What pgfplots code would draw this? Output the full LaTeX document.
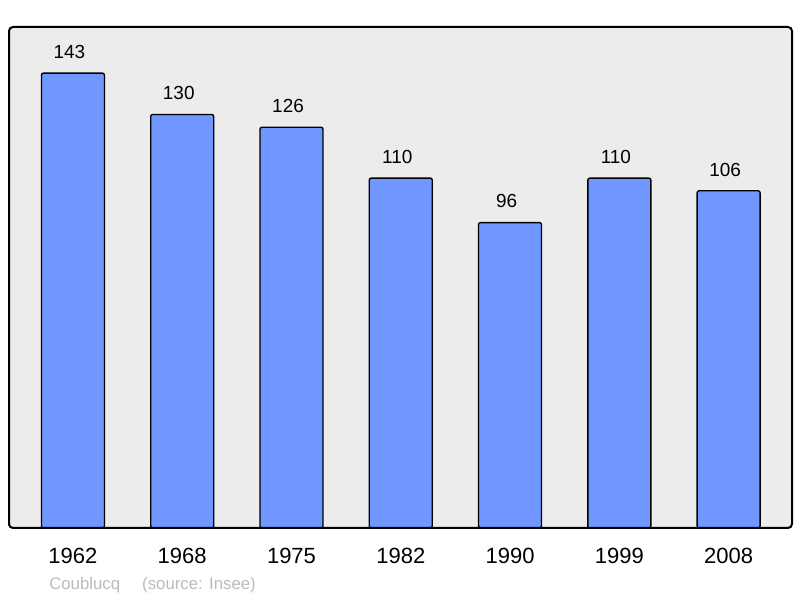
\documentclass[border=0pt]{standalone}
\usepackage{pgfplots}
\pgfplotsset{compat=1.18}
\usepackage{fontspec}
\setmainfont{Liberation Sans}
\definecolor{barblue}{HTML}{7096FF}
\definecolor{panel}{HTML}{ECECEC}
\definecolor{srcgray}{HTML}{BBBBBB}

\begin{document}
\begin{tikzpicture}
% canvas 800x598 px at 0.75pt per px
\path[use as bounding box] (0,0) rectangle (600pt,448.5pt);
\begin{axis}[
  at={(6.75pt,52.5pt)}, anchor=south west,
  width=587.25pt, height=375.75pt, scale only axis,
  ybar, bar width=47.25pt,
  xmin=-0.585, xmax=6.58,
  ymin=0, ymax=157.5,
  xtick={0,...,6},
  xticklabels={1962,1968,1975,1982,1990,1999,2008},
  ytick=\empty,
  major tick length=0pt,
  /pgf/number format/assume math mode=true,
  xticklabel style={font=\fontsize{16.5}{18}\selectfont, anchor=base, inner sep=0pt, yshift=-27pt},
  axis background/.style={fill=panel},
  axis line style={line width=1.5pt, rounded corners=3pt},
  axis on top,
  nodes near coords,
  every node near coord/.append style={font=\fontsize{14.2}{16}\selectfont, anchor=base, inner sep=0pt, yshift=11pt, xshift=-2.6pt, black},
]
\addplot[fill=barblue, draw=black, line width=1pt, rounded corners=1.5pt] coordinates {
  (0,143) (1,130) (2,126) (3,110) (4,96) (5,110) (6,106)
};
\end{axis}
\node[anchor=base west, inner sep=0pt, text=srcgray, font=\fontsize{12.6}{14}\selectfont]
  at (36.75pt,6pt) {Coublucq\hspace{16.5pt}(source: Insee)};
\end{tikzpicture}
\end{document}
